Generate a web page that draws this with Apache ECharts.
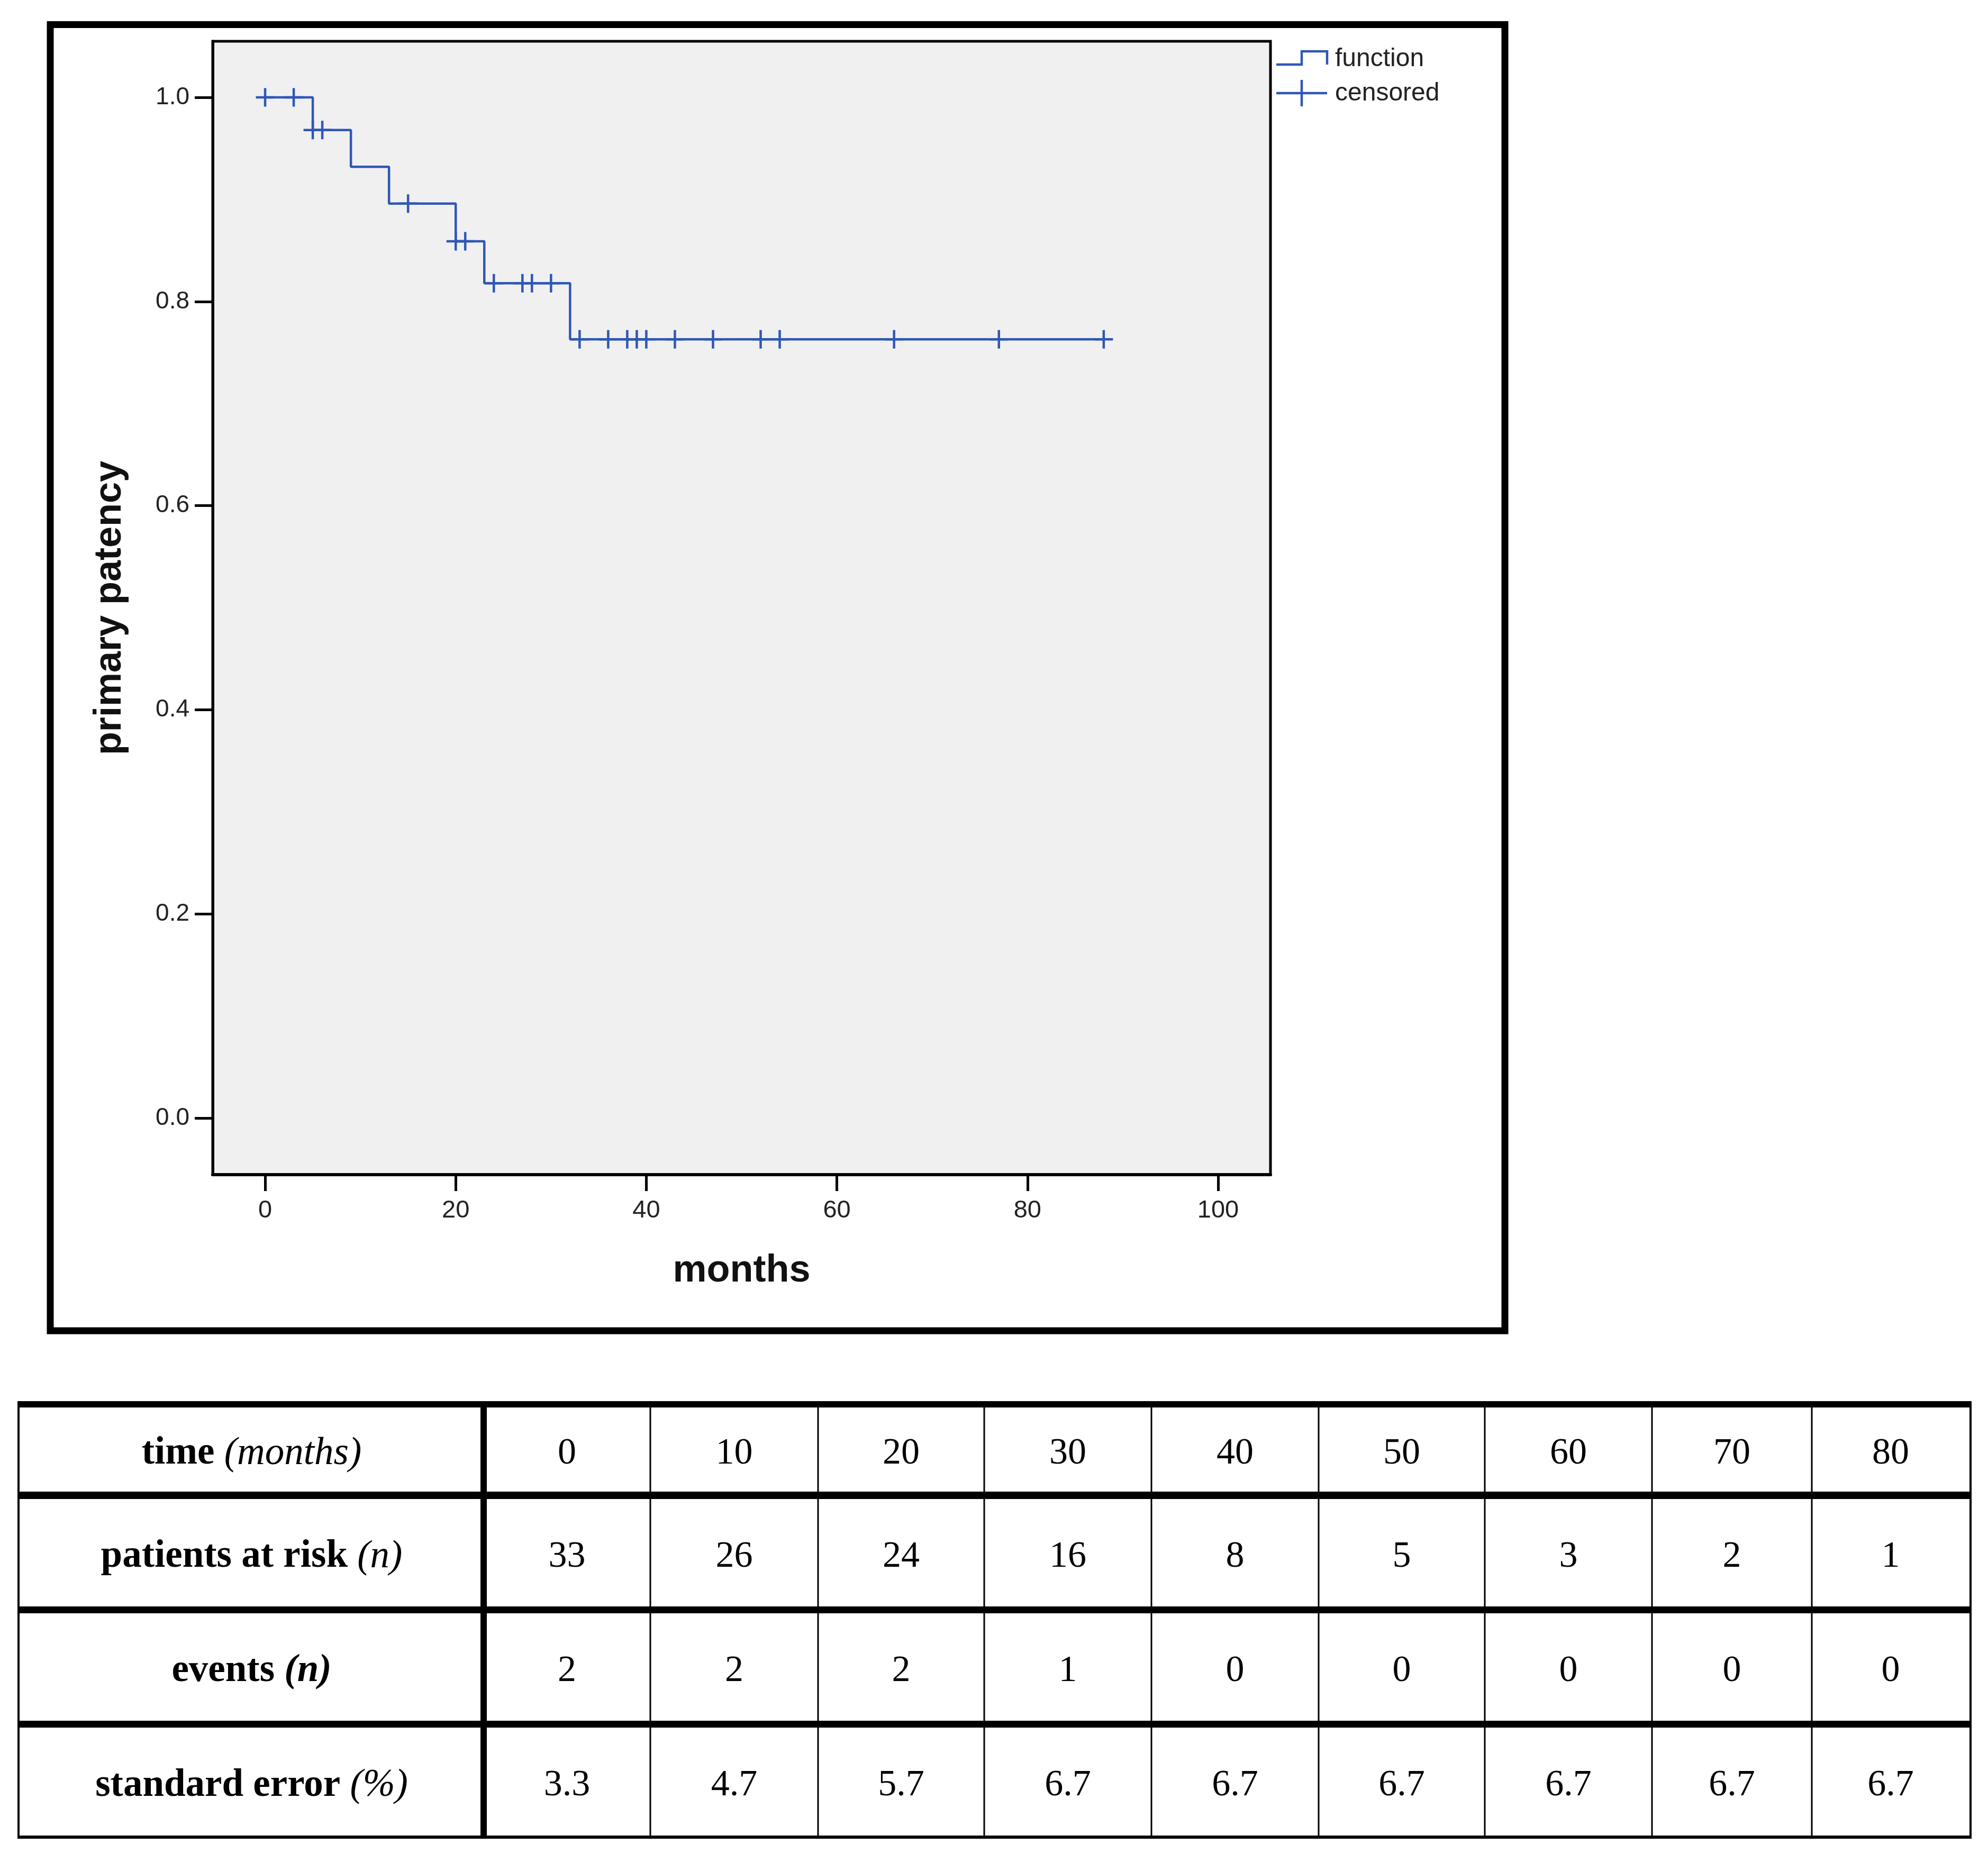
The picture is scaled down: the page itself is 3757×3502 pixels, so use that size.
<!DOCTYPE html>
<html><head><meta charset="utf-8">
<script src="https://cdn.jsdelivr.net/npm/echarts@6/dist/echarts.min.js"></script>
<style>html,body{margin:0;padding:0;background:#fff}#c{width:3757px;height:3502px}</style>
</head><body><div id="c"></div>
<script>
// ---- data ----
const stepTimes = [0, 5, 9, 13, 20, 23, 32, 88];
const survival = [1.0, 0.968, 0.932, 0.896, 0.859, 0.818, 0.763, 0.763];
const censorTimes = [0, 3, 5, 6, 15, 20, 21, 24, 27, 28, 30, 33, 36, 38, 39, 40, 43, 47, 52, 54, 66, 77, 88];
const xTicks = [0, 20, 40, 60, 80, 100];
const yTicks = [0, 0.2, 0.4, 0.6, 0.8, 1.0];
const legendNames = ['function', 'censored'];
const tableTimes = ['0', '10', '20', '30', '40', '50', '60', '70', '80'];
const atRisk = ['33', '26', '24', '16', '8', '5', '3', '2', '1'];
const eventsN = ['2', '2', '2', '1', '0', '0', '0', '0', '0'];
const stdError = ['3.3', '4.7', '5.7', '6.7', '6.7', '6.7', '6.7', '6.7', '6.7'];
const rowLabels = [
  '{b|time\u00a0}{i|(months)}',
  '{b|patients at risk\u00a0}{i|(n)}',
  '{b|events\u00a0}{bi|(n)}',
  '{b|standard error\u00a0}{i|(%)}'
];
const tableRows = [tableTimes, atRisk, eventsN, stdError];

// ---- styles / layout ----
const BLUE = '#2f57b6';
const SANS = 'Liberation Sans';
const SERIF = 'Liberation Serif';
function survAt(t) {
  let s = survival[0];
  for (let i = 0; i < stepTimes.length; i++) if (stepTimes[i] <= t) s = survival[i];
  return s;
}

const colEdges = [37, 914, 1229, 1546, 1860, 2176, 2492, 2806, 3122, 3424, 3722];
const rowEdges = [2660, 2819, 2833, 3036, 3049, 3252, 3265, 3469];
const hLines = [[2648, 12], [2819, 14], [3036, 13], [3252, 13], [3469, 6]];
const vLines = [[33, 4], [908, 12], [1227.5, 3], [1544.5, 3], [1858.5, 3], [2174.5, 3], [2490.5, 3], [2804.5, 3], [3120.5, 3], [3422.5, 3], [3722, 4]];

const graphics = [];
// outer frame
graphics.push({type: 'rect', shape: {x: 95, y: 46.5, width: 2749, height: 2468.5},
  style: {fill: 'none', stroke: '#000', lineWidth: 13}, z: 10});
// legend
graphics.push({type: 'polyline', shape: {points: [[2412, 122], [2460, 122], [2460, 97], [2508, 97], [2508, 122]]},
  style: {stroke: BLUE, lineWidth: 4.5, fill: 'none'}, z: 10});
graphics.push({type: 'line', shape: {x1: 2412, y1: 176, x2: 2508, y2: 176}, style: {stroke: BLUE, lineWidth: 4.5}, z: 10});
graphics.push({type: 'line', shape: {x1: 2460, y1: 151, x2: 2460, y2: 201}, style: {stroke: BLUE, lineWidth: 4.5}, z: 10});
graphics.push({type: 'text', x: 2523, y: 112, style: {text: legendNames[0], font: '48px "' + SANS + '"', fill: '#222', verticalAlign: 'middle', align: 'left'}, z: 10});
graphics.push({type: 'text', x: 2523, y: 177, style: {text: legendNames[1], font: '48px "' + SANS + '"', fill: '#222', verticalAlign: 'middle', align: 'left'}, z: 10});
// table lines
hLines.forEach(([y, h]) => graphics.push({type: 'rect', shape: {x: 33, y: y, width: 3693, height: h}, style: {fill: '#000'}, z: 10}));
vLines.forEach(([x, w]) => graphics.push({type: 'rect', shape: {x: x, y: 2648, width: w, height: 827}, style: {fill: '#000'}, z: 10}));
// table text
const rowCenters = [0, 1, 2, 3].map(r => (rowEdges[2 * r] + rowEdges[2 * r + 1]) / 2 + 8);
const rich = {
  b: {fontFamily: SERIF, fontSize: 73, fontWeight: 'bold', fill: '#000'},
  i: {fontFamily: SERIF, fontSize: 73, fontStyle: 'italic', fill: '#000'},
  bi: {fontFamily: SERIF, fontSize: 73, fontStyle: 'italic', fontWeight: 'bold', fill: '#000'}
};
rowLabels.forEach((lab, r) => {
  graphics.push({type: 'text', x: (colEdges[0] + colEdges[1]) / 2, y: rowCenters[r],
    style: {text: lab, rich: rich, align: 'center', verticalAlign: 'middle', fill: '#000'}, z: 11});
  tableRows[r].forEach((v, c) => {
    graphics.push({type: 'text', x: (colEdges[c + 1] + colEdges[c + 2]) / 2, y: rowCenters[r],
      style: {text: v, font: '70px "' + SERIF + '"', fill: '#000', align: 'center', verticalAlign: 'middle'}, z: 11});
  });
});

const chart = echarts.init(document.getElementById('c'), null, {renderer: 'canvas', width: 3757, height: 3502});
chart.setOption({
  animation: false,
  backgroundColor: '#fff',
  grid: {left: 402, top: 78, width: 1999, height: 2142, show: true, backgroundColor: '#f0f0f0',
    borderColor: '#000', borderWidth: 5, containLabel: false},
  xAxis: {
    type: 'value', min: -5.5, max: 105.5,
    axisLine: {show: true, onZero: false, lineStyle: {color: '#000', width: 6}},
    axisTick: {show: true, inside: false, length: 31, customValues: xTicks, lineStyle: {color: '#000', width: 5}},
    axisLabel: {customValues: xTicks, margin: 45, fontSize: 47, color: '#222', fontFamily: SANS},
    splitLine: {show: false},
    name: 'months', nameLocation: 'middle', nameGap: 146,
    nameTextStyle: {fontSize: 72, fontWeight: 'bold', color: '#111', fontFamily: SANS}
  },
  yAxis: {
    type: 'value', min: -0.0555, max: 1.055,
    axisLine: {show: true, onZero: false, lineStyle: {color: '#000', width: 5}},
    axisTick: {show: true, inside: false, length: 34, customValues: yTicks, lineStyle: {color: '#000', width: 5}},
    axisLabel: {customValues: yTicks, margin: 44, fontSize: 46, color: '#222', fontFamily: SANS,
      formatter: v => v.toFixed(1)},
    splitLine: {show: false},
    name: 'primary patency', nameLocation: 'middle', nameRotate: 90, nameGap: 158,
    nameTextStyle: {fontSize: 72, fontWeight: 'bold', color: '#111', fontFamily: SANS}
  },
  series: [
    {type: 'line', name: legendNames[0], step: 'end', symbol: 'none', showSymbol: false,
      data: stepTimes.map((t, i) => [t, survival[i]]),
      lineStyle: {color: BLUE, width: 4.5}, z: 3},
    {type: 'scatter', name: legendNames[1], symbol: 'path://M10,0 L10,20 M0,10 L20,10', symbolSize: 35,
      data: censorTimes.map(t => [t, survAt(t)]),
      itemStyle: {color: 'rgba(0,0,0,0)', borderColor: BLUE, borderWidth: 4.5, opacity: 1}, z: 4}
  ],
  graphic: graphics
});
</script></body></html>
